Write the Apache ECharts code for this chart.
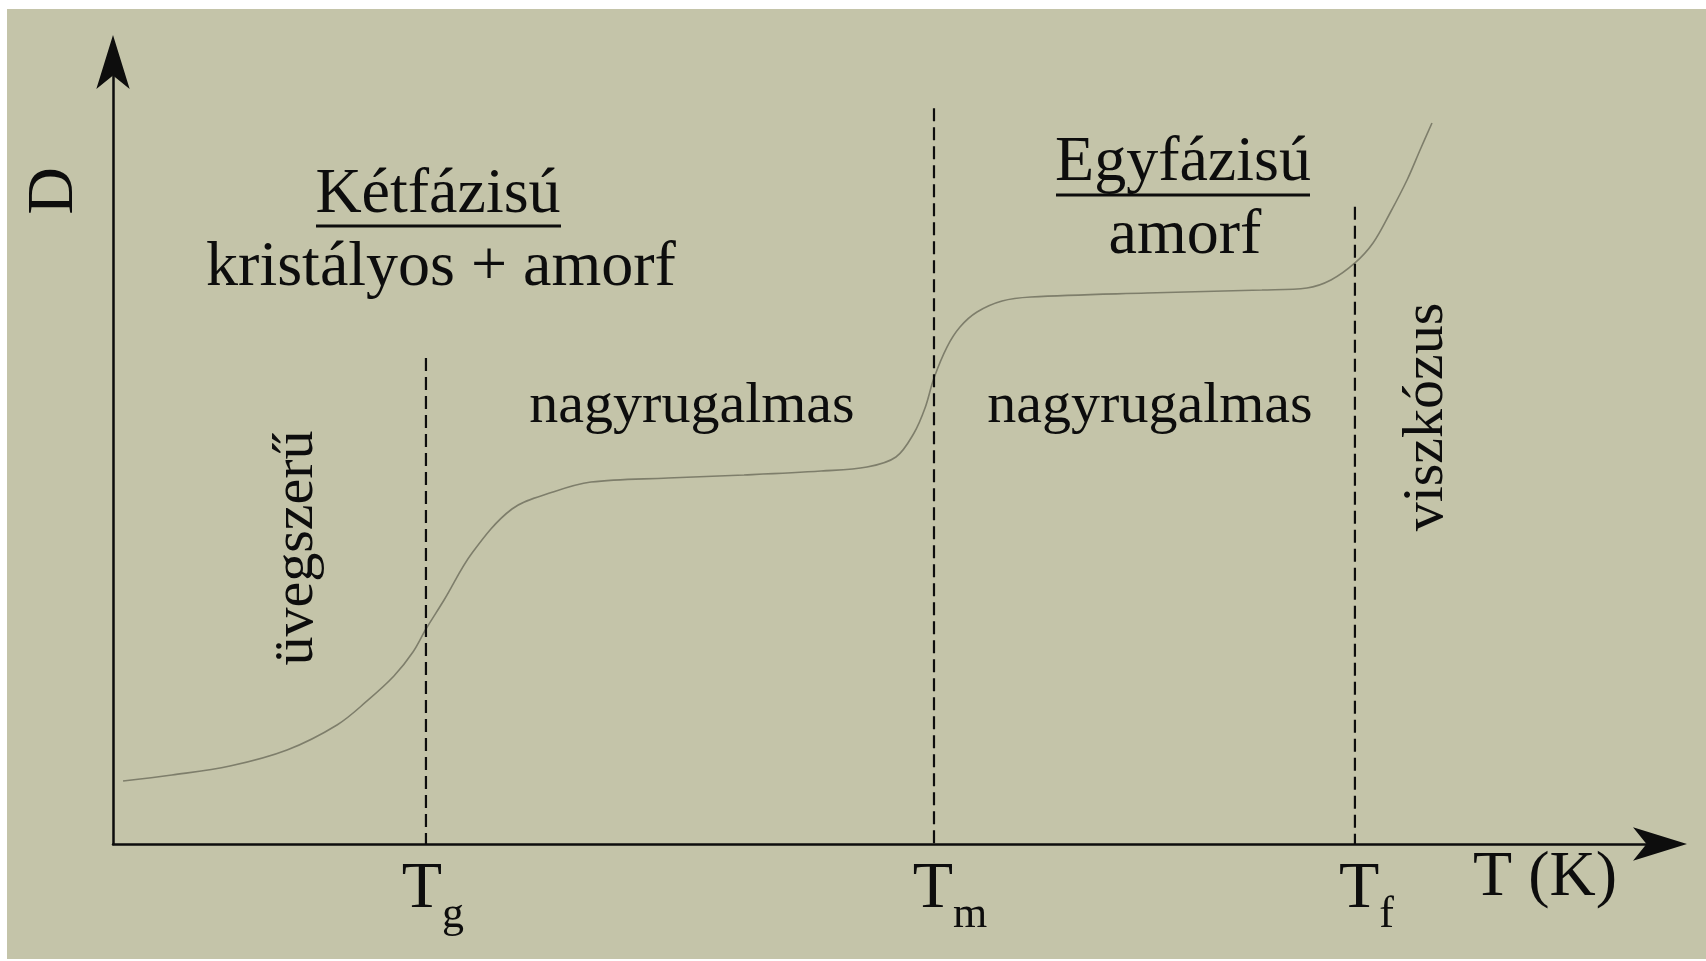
<!DOCTYPE html>
<html>
<head>
<meta charset="utf-8">
<style>
  html, body { margin: 0; padding: 0; background: #ffffff; }
  #chart { width: 1706px; height: 961px; }
</style>
<script src="https://cdn.jsdelivr.net/npm/echarts@6/dist/echarts.min.js"></script>
</head>
<body>
<div id="chart"></div>
<script>
// Deformation curve of a semi-crystalline polymer versus temperature (relative units)
const temperature = [0.65, 3.81, 7.56, 11.25, 14.48, 16.42, 18.16, 19.39, 20.23, 21.40,
  23.21, 25.79, 28.44, 30.90, 35.88, 40.79, 45.77, 48.74, 50.61, 51.78,
  52.49, 53.07, 53.91, 54.75, 55.85, 57.47, 59.34, 66.84, 74.27, 77.18,
  78.73, 80.28, 81.45, 82.55, 83.65, 84.49, 85.26];
const deformation = [8.06, 8.82, 9.97, 12.02, 15.22, 18.29, 21.48, 24.55, 27.49, 31.20,
  37.21, 42.84, 45.01, 46.29, 46.80, 47.19, 47.70, 48.21, 49.49, 52.56,
  55.75, 59.59, 63.55, 66.11, 68.03, 69.44, 69.95, 70.46, 70.84, 71.10,
  72.12, 74.30, 76.85, 80.69, 84.91, 88.75, 92.20];

// Transition temperatures: glass (g), melting (m), flow (f)
const transitionTemps = [20.23, 53.07, 80.28];
const transitionSubscripts = ['g', 'm', 'f'];
// Upper end of each dashed transition marker
const markerTops = [62.15, 94.1, 81.5];

// Axis titles and region captions
const axisTitleX = 'T (K)';
const axisTitleY = 'D';
const regionHeads = ['Kétfázisú', 'Egyfázisú'];
const regionPhases = ['kristályos + amorf', 'amorf'];
const stateNames = ['üvegszerű', 'nagyrugalmas', 'nagyrugalmas', 'viszkózus'];

const serif = '"Liberation Serif", "Times New Roman", serif';
const ink = '#0d0d0d';

function caption(text, x, y, size, rotation) {
  return {
    type: 'text', x: x, y: y, rotation: rotation || 0, z: 20,
    style: {
      text: text, fontFamily: serif, fontSize: size, fill: ink,
      align: 'center', verticalAlign: 'middle',
      textAlign: 'center', textVerticalAlign: 'middle'
    }
  };
}
function underline(x1, x2, y) {
  return {
    type: 'line', z: 20,
    shape: { x1: x1, y1: y, x2: x2, y2: y },
    style: { stroke: ink, lineWidth: 3 }
  };
}
function frameStrip(x, y, w, h) {
  return { type: 'rect', z: 30, shape: { x: x, y: y, width: w, height: h }, style: { fill: '#ffffff' } };
}

const chart = echarts.init(document.getElementById('chart'), null, { renderer: 'canvas' });

const spacerWidths = [14, 32, 23];
const rich = {
  t: { fontFamily: serif, fontSize: 66, lineHeight: 66, color: ink, verticalAlign: 'top' },
  s: { fontFamily: serif, fontSize: 44, lineHeight: 44, color: ink, padding: [50, 0, 0, 0] }
};
spacerWidths.forEach(function (w, i) {
  rich['p' + i] = { width: w, fontSize: 10, lineHeight: 10 };
});

const series = [{
  type: 'line',
  data: temperature.map(function (t, i) { return [t, deformation[i]]; }),
  smooth: 0.35,
  symbol: 'none',
  lineStyle: { color: '#7e7e6b', width: 1.6 },
  z: 3,
  silent: true
}];
transitionTemps.forEach(function (t, i) {
  series.push({
    type: 'line',
    data: [[t, markerTops[i]], [t, 0]],
    symbol: 'none',
    lineStyle: { color: ink, width: 2.2, type: [13, 6] },
    z: 4,
    silent: true
  });
});

const arrowLine = {
  show: true,
  symbol: ['none', 'arrow'],
  symbolSize: [25, 54],
  symbolOffset: [0, 27],
  lineStyle: { color: ink, width: 2.5 }
};

chart.setOption({
  backgroundColor: '#c4c4a9',
  animation: false,
  grid: { left: 113, right: 46, top: 62, bottom: 117 },
  xAxis: {
    type: 'value', min: 0, max: 100,
    name: axisTitleX,
    nameLocation: 'end',
    nameGap: -43,
    nameTextStyle: {
      fontFamily: serif, fontSize: 64, color: ink,
      align: 'right', verticalAlign: 'top', padding: [2, 0, 0, 0]
    },
    axisLine: arrowLine,
    axisTick: { show: false },
    splitLine: { show: false },
    axisLabel: {
      customValues: transitionTemps,
      margin: 13,
      formatter: function (v) {
        let idx = 0, best = Infinity;
        transitionTemps.forEach(function (t, i) {
          if (Math.abs(t - v) < best) { best = Math.abs(t - v); idx = i; }
        });
        return '{p' + idx + '| }{t|T}{s|' + transitionSubscripts[idx] + '}';
      },
      rich: rich
    }
  },
  yAxis: {
    type: 'value', min: 0, max: 100,
    name: axisTitleY,
    nameLocation: 'end',
    nameGap: -129,
    nameRotate: 90,
    nameTextStyle: {
      fontFamily: serif, fontSize: 66, color: ink,
      align: 'center', verticalAlign: 'bottom', padding: [0, 0, 25, 0]
    },
    axisLine: arrowLine,
    axisTick: { show: false },
    axisLabel: { show: false },
    splitLine: { show: false }
  },
  series: series,
  graphic: [
    caption(regionHeads[0], 438, 195.4, 64),
    underline(316, 561, 226),
    caption(regionPhases[0], 441, 268.4, 64),
    caption(regionHeads[1], 1183, 163.4, 64),
    underline(1056, 1310, 195),
    caption(regionPhases[1], 1185, 236.4, 64),
    caption(stateNames[0], 296.4, 548, 58, Math.PI / 2),
    caption(stateNames[1], 692, 406.4, 58),
    caption(stateNames[2], 1150, 406.4, 58),
    caption(stateNames[3], 1426.4, 417, 58, Math.PI / 2),
    frameStrip(0, 0, 1706, 9),
    frameStrip(0, 0, 7, 961),
    frameStrip(0, 959, 1706, 2)
  ]
});
</script>
</body>
</html>
